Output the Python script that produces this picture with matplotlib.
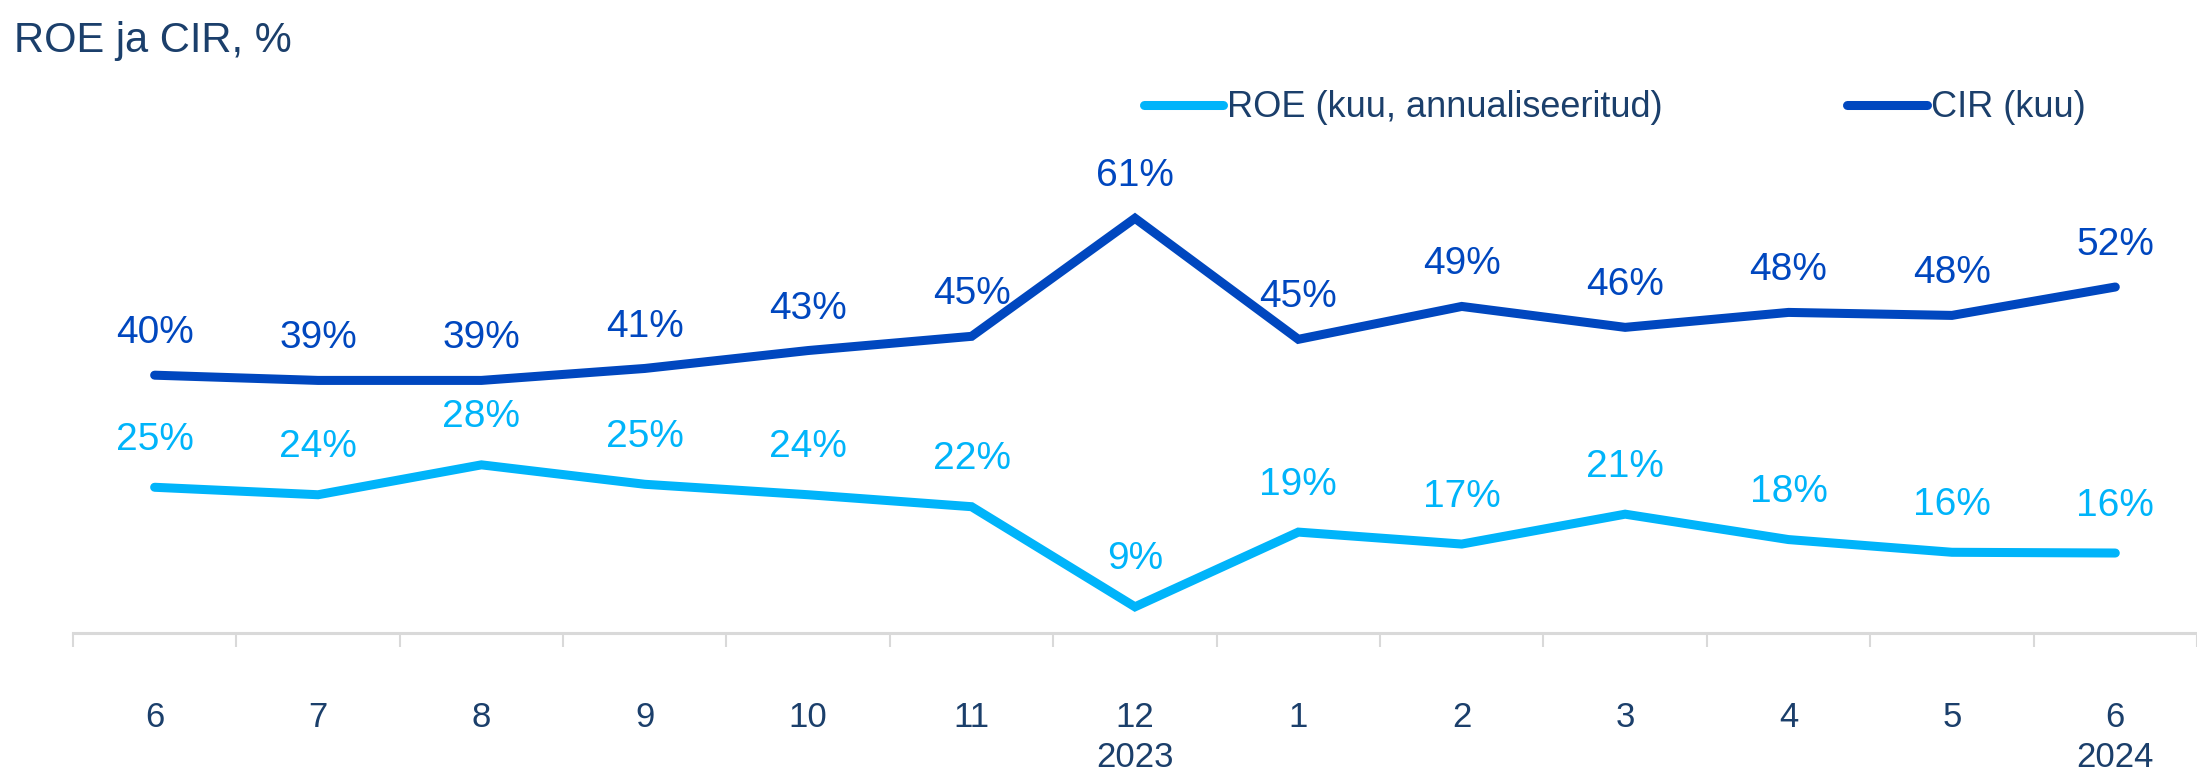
import matplotlib
matplotlib.use("Agg")
import matplotlib.pyplot as plt
import numpy as np

# kuud 06/2023 .. 06/2024
months = ["6", "7", "8", "9", "10", "11", "12\n2023", "1", "2", "3", "4", "5", "6\n2024"]
roe = [25.0, 24.0, 28.0, 25.4, 24.0, 22.4, 9.0, 19.0, 17.4, 21.4, 18.0, 16.3, 16.2]
cir = [40.0, 39.3, 39.3, 40.9, 43.3, 45.2, 61.0, 44.8, 49.2, 46.4, 48.4, 48.0, 51.8]

roe_col = "#00B4FA"
cir_col = "#0047BF"
txt_col = "#1B3F6B"
axis_col = "#D9D9D9"

plt.rcParams["font.family"] = ["Liberation Sans", "DejaVu Sans"]

fig = plt.figure(figsize=(21.97, 7.76), dpi=100)
ax = fig.add_axes([0.0332, 0.1843, 0.9668, 0.6211])

x = np.arange(len(months))
ax.plot(x, roe, color=roe_col, lw=6.5, solid_capstyle="round", solid_joinstyle="miter",
        label="ROE (kuu, annualiseeritud)")
ax.plot(x, cir, color=cir_col, lw=6.5, solid_capstyle="round", solid_joinstyle="miter",
        label="CIR (kuu)")

# andmesildid
for xi, v in zip(x, cir):
    ax.annotate(f"{v:.0f}%", (xi, v), xytext=(0, 23), textcoords="offset points",
                ha="center", va="baseline", color=cir_col, fontsize=28)
for xi, v in zip(x, roe):
    ax.annotate(f"{v:.0f}%", (xi, v), xytext=(0, 27), textcoords="offset points",
                ha="center", va="baseline", color=roe_col, fontsize=28)

ax.set_xlim(-0.5, len(months) - 0.5)
ax.set_ylim(5.5, 70)

for s in ["top", "left", "right"]:
    ax.spines[s].set_visible(False)
ax.spines["bottom"].set_color(axis_col)
ax.spines["bottom"].set_linewidth(2.2)
ax.yaxis.set_visible(False)

ax.set_xticks(x)
ax.set_xticklabels(months, color=txt_col, fontsize=25, linespacing=1.25)
ax.tick_params(axis="x", which="major", length=0, pad=49)
ax.set_xticks(np.arange(-0.5, len(months), 1), minor=True)
ax.tick_params(axis="x", which="minor", length=10, width=1.5, color=axis_col, direction="out")

fig.text(0.0064, 0.947, "ROE ja CIR, %", color=txt_col, fontsize=30, ha="left", va="center")

leg = fig.legend(loc="center left", bbox_to_anchor=(0.5205, 0.861), ncol=2, frameon=False,
                 fontsize=26, handlelength=2.2, handletextpad=0.12, columnspacing=5.1,
                 borderpad=0, borderaxespad=0)
for t in leg.get_texts():
    t.set_color(txt_col)

fig.savefig("out.png", dpi=100)
